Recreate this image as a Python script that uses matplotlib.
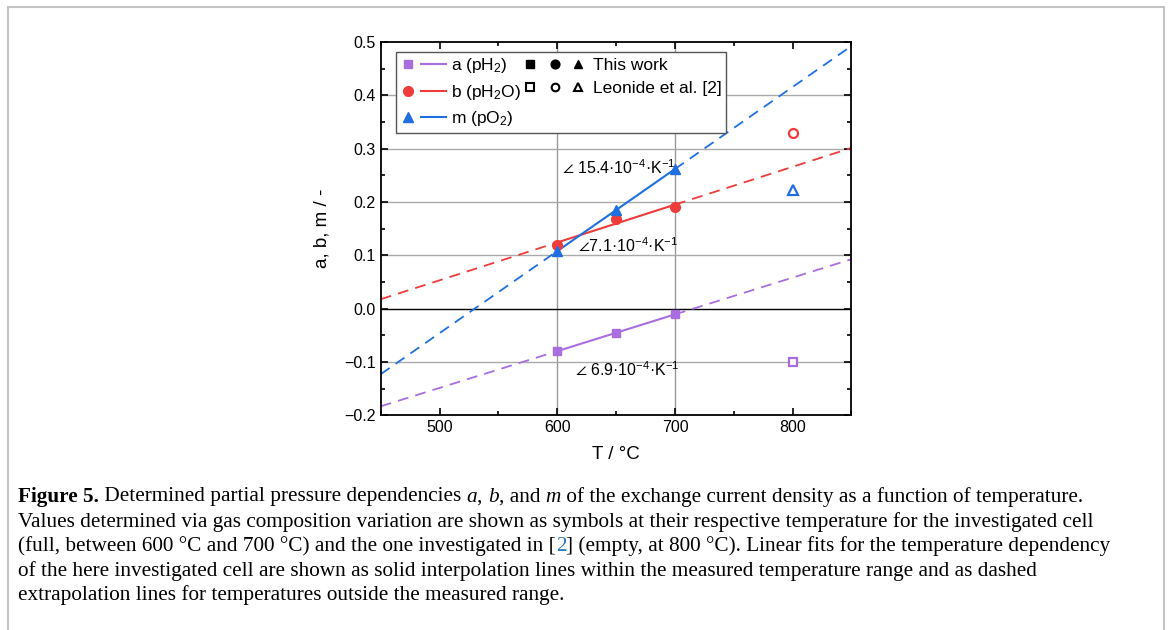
import numpy as np
import matplotlib
matplotlib.use('Agg')
import matplotlib.pyplot as plt
from matplotlib.lines import Line2D
from matplotlib.legend_handler import HandlerBase
from matplotlib.patches import Rectangle
from matplotlib.ticker import MultipleLocator, FuncFormatter

plt.rcParams['font.family'] = ['Liberation Sans', 'DejaVu Sans']
plt.rcParams['mathtext.fontset'] = 'custom'
plt.rcParams['mathtext.rm'] = 'Liberation Sans'
plt.rcParams['mathtext.it'] = 'Liberation Sans'

# measured values (this work)
T = [600, 650, 700]
a_vals = [-0.080, -0.045, -0.011]
b_vals = [0.120, 0.168, 0.191]
m_vals = [0.108, 0.185, 0.262]

# Leonide et al. [2], 800 C
T_leo = 800
a_leo = -0.100
b_leo = 0.330
m_leo = 0.222

slope_labels = ['15.4', '7.1', '6.9']

purple = '#a86ee0'
red = '#f03b3b'
blue = '#1f6fe0'

fig = plt.figure(figsize=(11.68, 6.3), dpi=100)
ax = fig.add_axes([0.326, 0.341, 0.403, 0.592])

# frame around figure (open at the bottom)
fig.patches.append(Rectangle((8 / 1168, -0.05), 1156 / 1168, 1.05 - 7 / 630, transform=fig.transFigure,
                             fill=False, edgecolor='#c4c4c4', linewidth=1.5))

ax.axvline(600, color='#999999', lw=1.0, zorder=1)
ax.axvline(700, color='#999999', lw=1.0, zorder=1)
for yv in [-0.1, 0.1, 0.2, 0.3, 0.4]:
    ax.axhline(yv, color='#aaaaaa', lw=1.0, zorder=1)
ax.axhline(0.0, color='black', lw=1.0, zorder=1)

Tlo = np.array([450, 600])
Thi = np.array([700, 850])
Tin = np.array([600, 700])
for vals, leo, col, mk in [(a_vals, a_leo, purple, 's'), (b_vals, b_leo, red, 'o'), (m_vals, m_leo, blue, '^')]:
    k, d = np.polyfit(T, vals, 1)
    ax.plot(Tlo, k * Tlo + d, color=col, lw=1.3, ls=(0, (6, 4)), zorder=2)
    ax.plot(Thi, k * Thi + d, color=col, lw=1.3, ls=(0, (6, 4)), zorder=2)
    ax.plot(Tin, k * Tin + d, color=col, lw=1.5, zorder=3)
    ax.plot(T, vals, ls='none', marker=mk, color=col, ms=7 if mk != 's' else 6, zorder=4)
    ax.plot([T_leo], [leo], ls='none', marker=mk, mfc='white', mec=col, mew=1.6,
            ms=6.5 if mk != 's' else 5.5, zorder=4)

ax.text(604, 0.265, r'$\angle$ ' + slope_labels[0] + r'·10$^{-4}$·K$^{-1}$', fontsize=11.5, va='center', ha='left')
ax.text(617.5, 0.119, r'$\angle$' + slope_labels[1] + r'·10$^{-4}$·K$^{-1}$', fontsize=11.5, va='center', ha='left')
ax.text(615, -0.115, r'$\angle$ ' + slope_labels[2] + r'·10$^{-4}$·K$^{-1}$', fontsize=11.5, va='center', ha='left')

ax.set_xlim(450, 850)
ax.set_ylim(-0.2, 0.5)
ax.xaxis.set_major_locator(MultipleLocator(100))
ax.xaxis.set_minor_locator(MultipleLocator(50))
ax.yaxis.set_major_locator(MultipleLocator(0.1))
ax.yaxis.set_minor_locator(MultipleLocator(0.05))
ax.tick_params(which='both', direction='in', top=True, right=True, labelsize=11.5, width=1.2)
ax.tick_params(which='major', length=5)
ax.tick_params(which='minor', length=3)
ax.set_xticks([500, 600, 700, 800])
ax.yaxis.set_major_formatter(FuncFormatter(lambda v, p: f'{v:.1f}'.replace('-', '\u2212')))
for s in ax.spines.values():
    s.set_linewidth(1.3)
ax.set_xlabel('T / °C', fontsize=13.5, labelpad=8)
ax.set_ylabel('a, b, m / -', fontsize=13.5, labelpad=10)


class Handle:
    def __init__(self, parts):
        self.parts = parts  # (x0_px, x1_px or None, style)


class HandleDrawer(HandlerBase):
    def create_artists(self, legend, orig_handle, xdescent, ydescent, width, height, fontsize, trans):
        y = height / 2 - ydescent
        arts = []
        for x0, x1, st in orig_handle.parts:
            if x1 is None:
                art = Line2D([x0 * 0.72 - xdescent], [y], ls='none', **st)
            else:
                art = Line2D([x0 * 0.72 - xdescent, x1 * 0.72 - xdescent], [y, y], **st)
            art.set_transform(trans)
            arts.append(art)
        if not arts:
            blank = Line2D([], [], ls='none')
            blank.set_transform(trans)
            arts.append(blank)
        return arts


h_a = Handle([(8, None, dict(marker='s', color=purple, ms=6)), (21, 46, dict(color=purple, lw=1.5))])
h_b = Handle([(8, None, dict(marker='o', color=red, ms=7)), (21, 46, dict(color=red, lw=1.5))])
h_m = Handle([(8, None, dict(marker='^', color=blue, ms=7)), (21, 46, dict(color=blue, lw=1.5))])
h_this = Handle([(x, None, dict(marker=mk, color='black', ms=6.3)) for x, mk in [(-12, 's'), (13, 'o'), (36, '^')]])
h_leo = Handle([(x, None, dict(marker=mk, mfc='white', mec='black', mew=1.5, ms=5.5))
                for x, mk in [(-12, 's'), (13, 'o'), (36, '^')]])
h_none = Handle([])
leg = ax.legend([h_a, h_b, h_m, h_this, h_leo, h_none],
                ['a (pH$_2$)', 'b (pH$_2$O)', 'm (pO$_2$)', 'This work', 'Leonide et al. [2]', ''],
                handler_map={Handle: HandleDrawer()},
                ncol=2, loc='upper left', bbox_to_anchor=(0.014, 0.998), fontsize=12.5,
                fancybox=False, edgecolor='#555555', framealpha=1, borderpad=0.25,
                handlelength=47 * 0.72 / 12.5, handletextpad=0.2, columnspacing=1.22, labelspacing=0.44)
leg.get_frame().set_linewidth(1.0)

# caption
serif = ['Liberation Serif', 'DejaVu Serif']
cap_fs = 15.3
link = '#2a7ab8'
caption = [
    [('Figure 5.', {'weight': 'bold'}), (' Determined partial pressure dependencies ', {}), ('a', {'style': 'italic'}),
     (', ', {}), ('b', {'style': 'italic'}), (', and ', {}), ('m', {'style': 'italic'}),
     (' of the exchange current density as a function of temperature.', {})],
    [('Values determined via gas composition variation are shown as symbols at their respective temperature for the investigated cell', {})],
    [('(full, between 600 °C and 700 °C) and the one investigated in [', {}), ('2', {'color': link}),
     ('] (empty, at 800 °C). Linear fits for the temperature dependency', {})],
    [('of the here investigated cell are shown as solid interpolation lines within the measured temperature range and as dashed', {})],
    [('extrapolation lines for temperatures outside the measured range.', {})],
]
renderer = fig.canvas.get_renderer()
for i, pieces in enumerate(caption):
    x = 18
    y = 1 - (497 + 24.6 * i) / 630
    for txt, st in pieces:
        t = fig.text(x / 1168, y, txt, fontsize=cap_fs, va='center', ha='left', family=serif, **st)
        x += t.get_window_extent(renderer).width

fig.savefig('out.png', dpi=100)
